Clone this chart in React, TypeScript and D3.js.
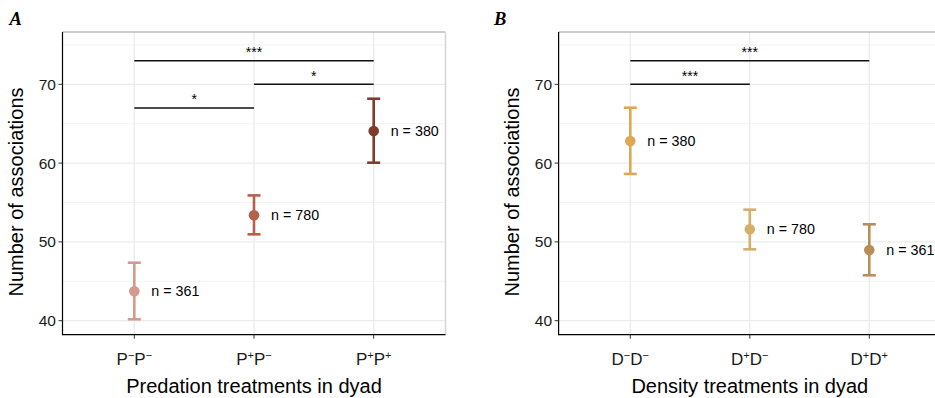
import React from "react";
import * as d3 from "d3";

const predLetter = "P";
const predSigns = [["−", "−"], ["+", "−"], ["+", "+"]];
const predMean = [43.73, 53.38, 64.07];
const predLow = [40.18, 50.96, 60.05];
const predHigh = [47.36, 55.9, 68.17];
const predN = [361, 780, 380];
const predColors = ["#D49A8C", "#B4604A", "#7F3B2C"];
const predSigFrom = [0, 1, 0];
const predSigTo = [1, 2, 2];
const predSigY = [67, 70, 73];
const predSigLabel = ["*", "*", "***"];

const densLetter = "D";
const densSigns = [["−", "−"], ["+", "−"], ["+", "+"]];
const densMean = [62.8, 51.6, 48.97];
const densLow = [58.62, 49.06, 45.76];
const densHigh = [67.03, 54.09, 52.23];
const densN = [380, 780, 361];
const densColors = ["#DEA753", "#D5AE6A", "#B78E58"];
const densSigFrom = [0, 0];
const densSigTo = [1, 2];
const densSigY = [70, 73];
const densSigLabel = ["***", "***"];

const yTicks = [40, 50, 60, 70];
const yMinor = [45, 55, 65, 75];
const yDomain = [38.22, 76.64];

const FONT = "'Liberation Sans', Arial, Helvetica, sans-serif";

function Panel(props: any) {
  const { left, right, top, bottom, tag, tagX, letter, signs, mean, low, high, n, colors, sigFrom, sigTo, sigY, sigLabel, xTitle } = props;
  const cats = signs.map((_: any, i: number) => String(i));
  const x = d3.scalePoint<string>().domain(cats).range([left, right]).padding(0.6);
  const y = d3.scaleLinear().domain(yDomain).range([bottom, top]);
  const cx = (i: number) => x(String(i)) as number;
  return (
    <g>
      <text x={tagX} y={25} fontFamily="'Liberation Serif', 'Times New Roman', serif" fontWeight="bold" fontStyle="italic" fontSize={18.5}>{tag}</text>
      <rect x={left} y={top} width={right - left} height={bottom - top} fill="#fff" />
      {yMinor.map((v) => (
        <line key={"m" + v} x1={left} x2={right} y1={y(v)} y2={y(v)} stroke="#F3F3F3" strokeWidth={1} />
      ))}
      {yTicks.map((v) => (
        <line key={"g" + v} x1={left} x2={right} y1={y(v)} y2={y(v)} stroke="#EBEBEB" strokeWidth={1.3} />
      ))}
      {cats.map((c: string, i: number) => (
        <line key={"v" + c} x1={cx(i)} x2={cx(i)} y1={top} y2={bottom} stroke="#EBEBEB" strokeWidth={1.3} />
      ))}
      <line x1={left} x2={right} y1={top} y2={top} stroke="#999" strokeWidth={1} />
      <line x1={right} x2={right} y1={top} y2={bottom} stroke="#D5D5D5" strokeWidth={1.5} />
      <line x1={left} x2={left} y1={top} y2={bottom + 0.5} stroke="#000" strokeWidth={1.2} />
      <line x1={left} x2={right} y1={bottom} y2={bottom} stroke="#000" strokeWidth={1.2} />
      {yTicks.map((v) => (
        <g key={"t" + v}>
          <line x1={left - 4} x2={left} y1={y(v)} y2={y(v)} stroke="#333" strokeWidth={1} />
          <text x={left - 6.5} y={y(v)} dy="0.36em" textAnchor="end" fontFamily={FONT} fontSize={15.5} fill="#1a1a1a">{v}</text>
        </g>
      ))}
      {cats.map((c: string, i: number) => (
        <g key={"xt" + c}>
          <line x1={cx(i)} x2={cx(i)} y1={bottom} y2={bottom + 4} stroke="#333" strokeWidth={1} />
          <text x={cx(i)} y={365} textAnchor="middle" fontFamily={FONT} fontSize={17} fill="#1a1a1a">
            {letter}<tspan fontSize={11} dy={-6.5}>{signs[i][0]}</tspan><tspan dy={6.5}>{letter}</tspan><tspan fontSize={11} dy={-6.5}>{signs[i][1]}</tspan>
          </text>
        </g>
      ))}
      <text x={(left + right) / 2} y={392.5} textAnchor="middle" fontFamily={FONT} fontSize={20} fill="#000">{xTitle}</text>
      <text transform={`translate(${left - 39.5},${192}) rotate(-90)`} textAnchor="middle" fontFamily={FONT} fontSize={20} fill="#000">Number of associations</text>
      {sigFrom.map((f: number, k: number) => (
        <g key={"s" + k}>
          <line x1={cx(f)} x2={cx(sigTo[k])} y1={y(sigY[k])} y2={y(sigY[k])} stroke="#111" strokeWidth={1.5} />
          <text x={(cx(f) + cx(sigTo[k])) / 2} y={y(sigY[k]) - 3.5} textAnchor="middle" fontFamily={FONT} fontSize={14} fill="#000">{sigLabel[k]}</text>
        </g>
      ))}
      {mean.map((m: number, i: number) => (
        <g key={"p" + i}>
          <line x1={cx(i)} x2={cx(i)} y1={y(low[i])} y2={y(high[i])} stroke={colors[i]} strokeWidth={2.6} />
          <line x1={cx(i) - 6.5} x2={cx(i) + 6.5} y1={y(low[i])} y2={y(low[i])} stroke={colors[i]} strokeWidth={2.6} />
          <line x1={cx(i) - 6.5} x2={cx(i) + 6.5} y1={y(high[i])} y2={y(high[i])} stroke={colors[i]} strokeWidth={2.6} />
          <circle cx={cx(i)} cy={y(m)} r={5.3} fill={colors[i]} />
          <text x={cx(i) + 17} y={y(m)} dy="0.36em" fontFamily={FONT} fontSize={14.3} fill="#000">{"n = " + n[i]}</text>
        </g>
      ))}
    </g>
  );
}

export default function App() {
  return (
    <svg width={935} height={398} style={{ position: "absolute", left: 0, top: 0, background: "#fff" }}>
      <rect x={0} y={0} width={935} height={398} fill="#fff" />
      <Panel left={62.5} right={445.5} top={32} bottom={334.7} tag="A" tagX={9.5} letter={predLetter} signs={predSigns}
        mean={predMean} low={predLow} high={predHigh} n={predN} colors={predColors}
        sigFrom={predSigFrom} sigTo={predSigTo} sigY={predSigY} sigLabel={predSigLabel} xTitle="Predation treatments in dyad" />
      <Panel left={558.6} right={941} top={32} bottom={334.7} tag="B" tagX={494} letter={densLetter} signs={densSigns}
        mean={densMean} low={densLow} high={densHigh} n={densN} colors={densColors}
        sigFrom={densSigFrom} sigTo={densSigTo} sigY={densSigY} sigLabel={densSigLabel} xTitle="Density treatments in dyad" />
    </svg>
  );
}
